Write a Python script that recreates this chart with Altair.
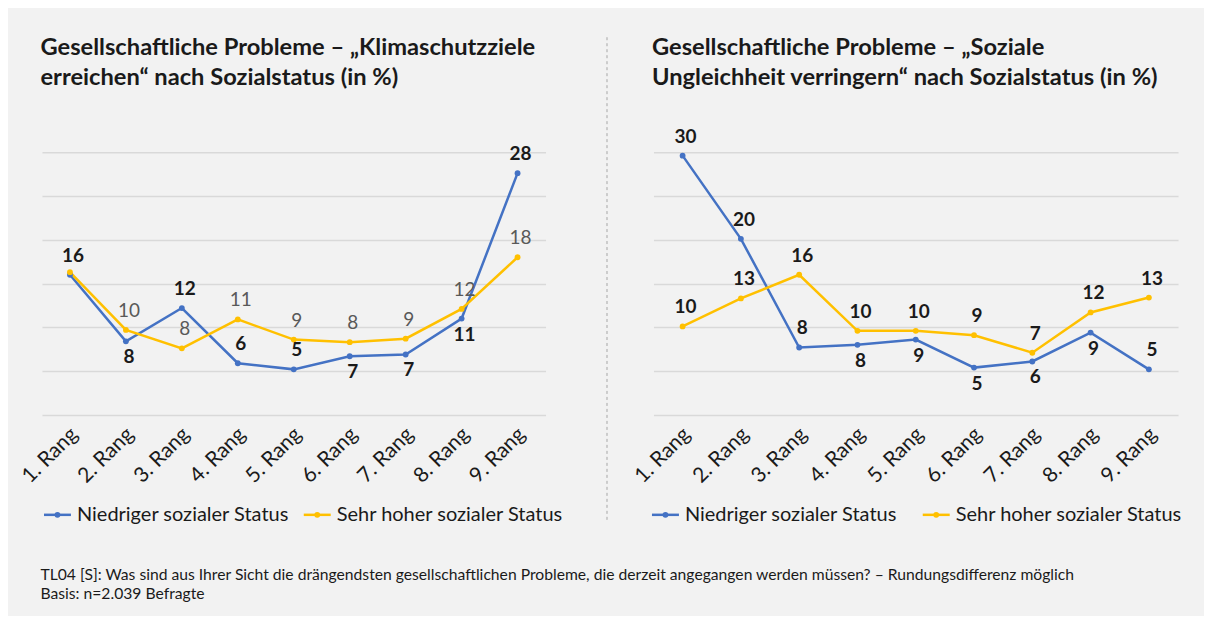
import altair as alt
import pandas as pd

# ---------------- data ----------------
ranks = ["1. Rang", "2. Rang", "3. Rang", "4. Rang", "5. Rang",
         "6. Rang", "7. Rang", "8. Rang", "9. Rang"]
series_names = ["Niedriger sozialer Status", "Sehr hoher sozialer Status"]

# Klimaschutzziele erreichen (in %)
klima_niedrig = [16.0, 8.4, 12.2, 5.9, 5.2, 6.7, 6.9, 11.0, 27.6]
klima_hoch = [16.3, 9.7, 7.6, 10.9, 8.6, 8.3, 8.7, 12.1, 18.0]

# Soziale Ungleichheit verringern (in %)
ungl_niedrig = [29.6, 20.1, 7.7, 8.0, 8.6, 5.4, 6.1, 9.4, 5.2]
ungl_hoch = [10.1, 13.3, 16.0, 9.6, 9.6, 9.1, 7.1, 11.7, 13.4]

title_left = ["Gesellschaftliche Probleme \u2013 \u201eKlimaschutzziele",
              "erreichen\u201c nach Sozialstatus (in %)"]
title_right = ["Gesellschaftliche Probleme \u2013 \u201eSoziale",
               "Ungleichheit verringern\u201c nach Sozialstatus (in %)"]
footnote = ["TL04 [S]: Was sind aus Ihrer Sicht die dr\u00e4ngendsten gesellschaftlichen Probleme, "
            "die derzeit angegangen werden m\u00fcssen? \u2013 Rundungsdifferenz m\u00f6glich",
            "Basis: n=2.039 Befragte"]

# ---------------- styles ----------------
# label placement (style, not data)
side_left_niedrig = ["above", "below", "above", "above", "above", "below", "below", "below", "above"]
side_left_hoch = ["none"] + ["above"] * 8
side_right_niedrig = ["above", "above", "above", "below", "below", "below", "below", "below", "above"]
side_right_hoch = ["above"] * 9

COLORS = ["#4472c4", "#ffc000"]
FONT = "Lato"
BG = "#f2f2f2"
TEXT = "#1a1a1a"
W_LEFT, W_RIGHT, H = 504, 525, 263
SPACING = 108
CHART_W, CHART_H = 1196, 607
ORIGIN_X, ORIGIN_Y = 33.5, 143.5      # left plot origin inside the chart
LEG_Y = 363


def make_df(niedrig, hoch, side_n, side_h):
    rows = []
    for name, vals, sides in ((series_names[0], niedrig, side_n), (series_names[1], hoch, side_h)):
        for r, v, s in zip(ranks, vals, sides):
            rows.append({"rank": r, "series": name, "value": v, "side": s})
    return pd.DataFrame(rows)


color_scale = alt.Scale(domain=series_names, range=COLORS)


def one_row():
    return pd.DataFrame({"k": [0]})


def legend_layers(starts):
    out = []
    for name, color, sx in zip(series_names, COLORS, starts):
        out.append(alt.Chart(one_row()).mark_rule(color=color, strokeWidth=2.5).encode(
            x=alt.value(sx), x2=alt.value(sx + 27), y=alt.value(LEG_Y)))
        out.append(alt.Chart(one_row()).mark_point(filled=True, color=color, size=34, opacity=1).encode(
            x=alt.value(sx + 13.5), y=alt.value(LEG_Y)))
        out.append(alt.Chart(one_row()).mark_text(
            text=name, align="left", baseline="middle", font=FONT, fontSize=20, color=TEXT
        ).encode(x=alt.value(sx + 33), y=alt.value(LEG_Y)))
    return out


def panel(df, width, title_lines, grey_hoch, legend_starts, extras):
    base = alt.Chart(df).encode(
        x=alt.X("rank:N", sort=ranks,
                scale=alt.Scale(type="point", padding=0.5),
                axis=alt.Axis(title=None, labelAngle=-45, labelAlign="right",
                              labelBaseline="middle", labelPadding=16, labelOffset=4,
                              labelFont=FONT, labelFontSize=21, labelColor=TEXT,
                              ticks=False, domain=False, grid=False)),
        y=alt.Y("value:Q", scale=alt.Scale(domain=[0, 30], nice=False),
                axis=alt.Axis(title=None, values=[0, 5, 10, 15, 20, 25, 30],
                              labels=False, ticks=False, domain=False, grid=True,
                              gridColor="#d9d9d9", gridWidth=1.5)),
    )
    lines = base.mark_line(strokeWidth=2.5).encode(
        stroke=alt.Stroke("series:N", scale=color_scale, legend=None),
        detail="series:N",
    )
    points = base.mark_point(filled=True, size=34, opacity=1).encode(
        fill=alt.Fill("series:N", scale=color_scale, legend=None),
    )

    def labels(series, side, dy, color, weight):
        return base.mark_text(dy=dy, dx=3, font=FONT, fontSize=19, fontWeight=weight,
                              color=color, baseline="middle").encode(
            text=alt.Text("value:Q", format=".0f")
        ).transform_filter(
            (alt.datum.series == series) & (alt.datum.side == side)
        )

    hoch_color = "#595959" if grey_hoch else TEXT
    hoch_weight = "normal" if grey_hoch else "bold"
    text_layers = [
        labels(series_names[1], "above", -19, hoch_color, hoch_weight),
        labels(series_names[1], "below", 16, hoch_color, hoch_weight),
        labels(series_names[0], "above", -19, TEXT, "bold"),
        labels(series_names[0], "below", 16, TEXT, "bold"),
    ]

    title = alt.Chart(one_row()).mark_text(
        text=title_lines, align="left", baseline="top", font=FONT, fontSize=23.7,
        fontWeight="bold", color=TEXT, lineHeight=30
    ).encode(x=alt.value(-1.5), y=alt.value(-116))

    return alt.layer(*extras, lines, points, *text_layers, title,
                     *legend_layers(legend_starts)).properties(width=width, height=H)


# decorations for the left panel (divider, footnote, page corners)
divider = alt.Chart(one_row()).mark_rule(strokeDash=[3, 3], color="#a6a6a6", strokeWidth=1).encode(
    x=alt.value(565.5), y=alt.value(-115), y2=alt.value(371))
foot = alt.Chart(one_row()).mark_text(
    text=footnote, align="left", baseline="top", font=FONT, fontSize=15.7,
    color=TEXT, lineHeight=19
).encode(x=alt.value(-1.5), y=alt.value(416))
corner_tl = alt.Chart(one_row()).mark_rule(color=BG, strokeWidth=1).encode(
    x=alt.value(-ORIGIN_X + 0.5), x2=alt.value(-ORIGIN_X + 1.5), y=alt.value(-ORIGIN_Y + 0.5))
corner_br = alt.Chart(one_row()).mark_rule(color=BG, strokeWidth=1).encode(
    x=alt.value(CHART_W - ORIGIN_X - 1.5), x2=alt.value(CHART_W - ORIGIN_X - 0.5),
    y=alt.value(CHART_H - ORIGIN_Y - 0.5))

left = panel(make_df(klima_niedrig, klima_hoch, side_left_niedrig, side_left_hoch),
             W_LEFT, title_left, True, [2, 262],
             [corner_tl, corner_br, divider, foot])
right = panel(make_df(ungl_niedrig, ungl_hoch, side_right_niedrig, side_right_hoch),
              W_RIGHT, title_right, False, [-1.5, 269.5], [])

chart = alt.hconcat(left, right, spacing=SPACING, bounds="flush").resolve_scale(
    fill="independent", stroke="independent"
).configure(
    background=BG, padding=0
).configure_view(strokeWidth=0)

chart.save("out.html", embed_options={"renderer": "svg", "actions": False})
